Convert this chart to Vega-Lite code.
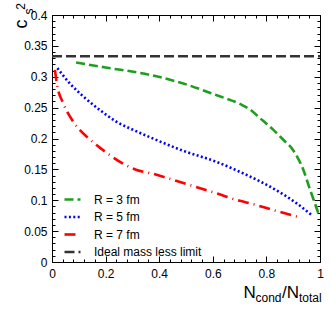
{
  "$schema": "https://vega.github.io/schema/vega-lite/v6.json",
  "width": 268,
  "height": 247,
  "autosize": "none",
  "padding": {"left": 52, "top": 15, "right": 11, "bottom": 54},
  "background": "white",
  "config": {
    "font": "Liberation Sans",
    "view": {"stroke": "black", "strokeWidth": 1},
    "axis": {
      "domainColor": "black",
      "tickColor": "black",
      "labelColor": "black",
      "titleColor": "black",
      "labelFont": "Liberation Sans",
      "titleFont": "Liberation Sans",
      "titleFontWeight": "normal",
      "labelFontSize": 12,
      "grid": false,
      "titleAnchor": null
    }
  },
  "datasets": {
    "curves": [
      {"series": "R = 3 fm", "x": 0.09, "y": 0.323},
      {"series": "R = 3 fm", "x": 0.2, "y": 0.315},
      {"series": "R = 3 fm", "x": 0.366, "y": 0.303},
      {"series": "R = 3 fm", "x": 0.49, "y": 0.289},
      {"series": "R = 3 fm", "x": 0.615, "y": 0.27},
      {"series": "R = 3 fm", "x": 0.701, "y": 0.256},
      {"series": "R = 3 fm", "x": 0.739, "y": 0.247},
      {"series": "R = 3 fm", "x": 0.776, "y": 0.233},
      {"series": "R = 3 fm", "x": 0.826, "y": 0.214},
      {"series": "R = 3 fm", "x": 0.863, "y": 0.198},
      {"series": "R = 3 fm", "x": 0.9, "y": 0.181},
      {"series": "R = 3 fm", "x": 0.938, "y": 0.149},
      {"series": "R = 3 fm", "x": 0.963, "y": 0.117},
      {"series": "R = 3 fm", "x": 0.981, "y": 0.095},
      {"series": "R = 3 fm", "x": 0.997, "y": 0.075},
      {"series": "R = 5 fm", "x": 0.02, "y": 0.314},
      {"series": "R = 5 fm", "x": 0.067, "y": 0.289},
      {"series": "R = 5 fm", "x": 0.117, "y": 0.268},
      {"series": "R = 5 fm", "x": 0.179, "y": 0.246},
      {"series": "R = 5 fm", "x": 0.241, "y": 0.227},
      {"series": "R = 5 fm", "x": 0.303, "y": 0.214},
      {"series": "R = 5 fm", "x": 0.366, "y": 0.202},
      {"series": "R = 5 fm", "x": 0.49, "y": 0.18},
      {"series": "R = 5 fm", "x": 0.615, "y": 0.162},
      {"series": "R = 5 fm", "x": 0.701, "y": 0.146},
      {"series": "R = 5 fm", "x": 0.726, "y": 0.141},
      {"series": "R = 5 fm", "x": 0.826, "y": 0.119},
      {"series": "R = 5 fm", "x": 0.913, "y": 0.095},
      {"series": "R = 5 fm", "x": 0.972, "y": 0.075},
      {"series": "R = 7 fm", "x": 0.011, "y": 0.311},
      {"series": "R = 7 fm", "x": 0.018, "y": 0.289},
      {"series": "R = 7 fm", "x": 0.042, "y": 0.257},
      {"series": "R = 7 fm", "x": 0.08, "y": 0.227},
      {"series": "R = 7 fm", "x": 0.142, "y": 0.198},
      {"series": "R = 7 fm", "x": 0.185, "y": 0.183},
      {"series": "R = 7 fm", "x": 0.216, "y": 0.173},
      {"series": "R = 7 fm", "x": 0.316, "y": 0.149},
      {"series": "R = 7 fm", "x": 0.366, "y": 0.144},
      {"series": "R = 7 fm", "x": 0.49, "y": 0.128},
      {"series": "R = 7 fm", "x": 0.615, "y": 0.111},
      {"series": "R = 7 fm", "x": 0.701, "y": 0.099},
      {"series": "R = 7 fm", "x": 0.739, "y": 0.095},
      {"series": "R = 7 fm", "x": 0.826, "y": 0.084},
      {"series": "R = 7 fm", "x": 0.919, "y": 0.073},
      {"series": "Ideal mass less limit", "x": 0, "y": 0.3333},
      {"series": "Ideal mass less limit", "x": 1, "y": 0.3333}
    ]
  },
  "layer": [
    {
      "data": {"name": "curves"},
      "mark": {"type": "line", "interpolate": "monotone", "clip": true},
      "encoding": {
        "x": {
          "field": "x", "type": "quantitative",
          "scale": {"domain": [0, 1], "nice": false, "zero": false},
          "axis": {
            "orient": "bottom", "values": [0, 0.2, 0.4, 0.6, 0.8, 1], "format": "~g",
            "tickSize": -6, "labelPadding": 12, "labelFlush": false,
            "title": "N", "titleFontSize": 17, "titleAlign": "left", "titleBaseline": "alphabetic",
            "titleX": 191, "titleY": 35
          }
        },
        "y": {
          "field": "y", "type": "quantitative",
          "scale": {"domain": [0, 0.4], "nice": false, "zero": false},
          "axis": {
            "orient": "left", "values": [0, 0.05, 0.1, 0.15, 0.2, 0.25, 0.3, 0.35, 0.4], "format": "~g",
            "tickSize": -6, "labelPadding": 11, "labelFlush": false, "title": null
          }
        },
        "color": {
          "field": "series", "type": "nominal",
          "scale": {"domain": ["R = 3 fm", "R = 5 fm", "R = 7 fm", "Ideal mass less limit"], "range": ["#1e9e1e", "#0000ff", "#ff0000", "#333333"]},
          "legend": {
            "title": null, "orient": "none", "legendX": 11, "legendY": 175, "padding": 0,
            "symbolType": "stroke", "symbolSize": 256, "symbolStrokeWidth": 2.5,
            "labelFontSize": 12, "labelFont": "Liberation Sans", "labelColor": "black",
            "labelOffset": 12, "rowPadding": 1.5
          }
        },
        "strokeDash": {
          "field": "series", "type": "nominal",
          "scale": {"domain": ["R = 3 fm", "R = 5 fm", "R = 7 fm", "Ideal mass less limit"], "range": [[9, 4], [2, 2.4], [11, 5, 1, 5], [10, 4]]}
        },
        "strokeWidth": {
          "field": "series", "type": "nominal",
          "scale": {"domain": ["R = 3 fm", "R = 5 fm", "R = 7 fm", "Ideal mass less limit"], "range": [2.6, 2.6, 2.6, 1.3]}
        }
      }
    },
    {
      "data": {"name": "curves"},
      "mark": {"type": "line", "opacity": 0},
      "encoding": {
        "x": {
          "field": "x", "type": "quantitative",
          "axis": {
            "orient": "bottom", "values": [0.04, 0.08, 0.12, 0.16, 0.24, 0.28, 0.32, 0.36, 0.44, 0.48, 0.52, 0.56, 0.64, 0.68, 0.72, 0.76, 0.84, 0.88, 0.92, 0.96],
            "labels": false, "domain": false, "tickSize": -3,
            "title": "cond", "titleFontSize": 12, "titleAlign": "left", "titleBaseline": "alphabetic",
            "titleX": 203, "titleY": 39
          }
        },
        "y": {
          "field": "y", "type": "quantitative",
          "axis": {
            "orient": "left", "values": [0.01, 0.02, 0.03, 0.04, 0.06, 0.07, 0.08, 0.09, 0.11, 0.12, 0.13, 0.14, 0.16, 0.17, 0.18, 0.19, 0.21, 0.22, 0.23, 0.24, 0.26, 0.27, 0.28, 0.29, 0.31, 0.32, 0.33, 0.34, 0.36, 0.37, 0.38, 0.39],
            "labels": false, "domain": false, "tickSize": -3, "title": null
          }
        }
      }
    },
    {
      "data": {"name": "curves"},
      "mark": {"type": "line", "opacity": 0},
      "encoding": {
        "x": {
          "field": "x", "type": "quantitative",
          "axis": {
            "orient": "top", "values": [0, 0.2, 0.4, 0.6, 0.8, 1],
            "labels": false, "tickSize": -6,
            "title": "/N", "titleFontSize": 17, "titleAlign": "left", "titleBaseline": "alphabetic",
            "titleX": 229.5, "titleY": 282
          }
        },
        "y": {
          "field": "y", "type": "quantitative",
          "axis": {
            "orient": "right", "values": [0, 0.05, 0.1, 0.15, 0.2, 0.25, 0.3, 0.35, 0.4],
            "labels": false, "tickSize": -6, "title": null
          }
        }
      }
    },
    {
      "data": {"name": "curves"},
      "mark": {"type": "line", "opacity": 0},
      "encoding": {
        "x": {
          "field": "x", "type": "quantitative",
          "axis": {
            "orient": "top", "values": [0.04, 0.08, 0.12, 0.16, 0.24, 0.28, 0.32, 0.36, 0.44, 0.48, 0.52, 0.56, 0.64, 0.68, 0.72, 0.76, 0.84, 0.88, 0.92, 0.96],
            "labels": false, "domain": false, "tickSize": -3,
            "title": "total", "titleFontSize": 12, "titleAlign": "left", "titleBaseline": "alphabetic",
            "titleX": 246.5, "titleY": 286
          }
        },
        "y": {
          "field": "y", "type": "quantitative",
          "axis": {
            "orient": "right", "values": [0.01, 0.02, 0.03, 0.04, 0.06, 0.07, 0.08, 0.09, 0.11, 0.12, 0.13, 0.14, 0.16, 0.17, 0.18, 0.19, 0.21, 0.22, 0.23, 0.24, 0.26, 0.27, 0.28, 0.29, 0.31, 0.32, 0.33, 0.34, 0.36, 0.37, 0.38, 0.39],
            "labels": false, "domain": false, "tickSize": -3, "title": null
          }
        }
      }
    },
    {
      "data": {"name": "curves"},
      "mark": {"type": "line", "opacity": 0},
      "encoding": {
        "x": {
          "field": "x", "type": "quantitative",
          "axis": {
            "orient": "top", "ticks": false, "labels": false, "domain": false,
            "title": "c", "titleFontSize": 18, "titleAngle": 270, "titleAlign": "center", "titleBaseline": "middle",
            "titleX": -30.5, "titleY": 8.5
          }
        },
        "y": {"field": "y", "type": "quantitative", "axis": null}
      }
    },
    {
      "data": {"name": "curves"},
      "mark": {"type": "line", "opacity": 0},
      "encoding": {
        "x": {
          "field": "x", "type": "quantitative",
          "axis": {
            "orient": "top", "ticks": false, "labels": false, "domain": false,
            "title": "s", "titleFontSize": 12, "titleAngle": 270, "titleAlign": "center", "titleBaseline": "middle",
            "titleX": -24, "titleY": -4
          }
        },
        "y": {"field": "y", "type": "quantitative", "axis": null}
      }
    },
    {
      "data": {"name": "curves"},
      "mark": {"type": "line", "opacity": 0},
      "encoding": {
        "x": {
          "field": "x", "type": "quantitative",
          "axis": {
            "orient": "top", "ticks": false, "labels": false, "domain": false,
            "title": "2", "titleFontSize": 12, "titleAngle": 270, "titleAlign": "center", "titleBaseline": "middle",
            "titleX": -31.5, "titleY": -9
          }
        },
        "y": {"field": "y", "type": "quantitative", "axis": null}
      }
    }
  ],
  "resolve": {"axis": {"x": "independent", "y": "independent"}}
}
